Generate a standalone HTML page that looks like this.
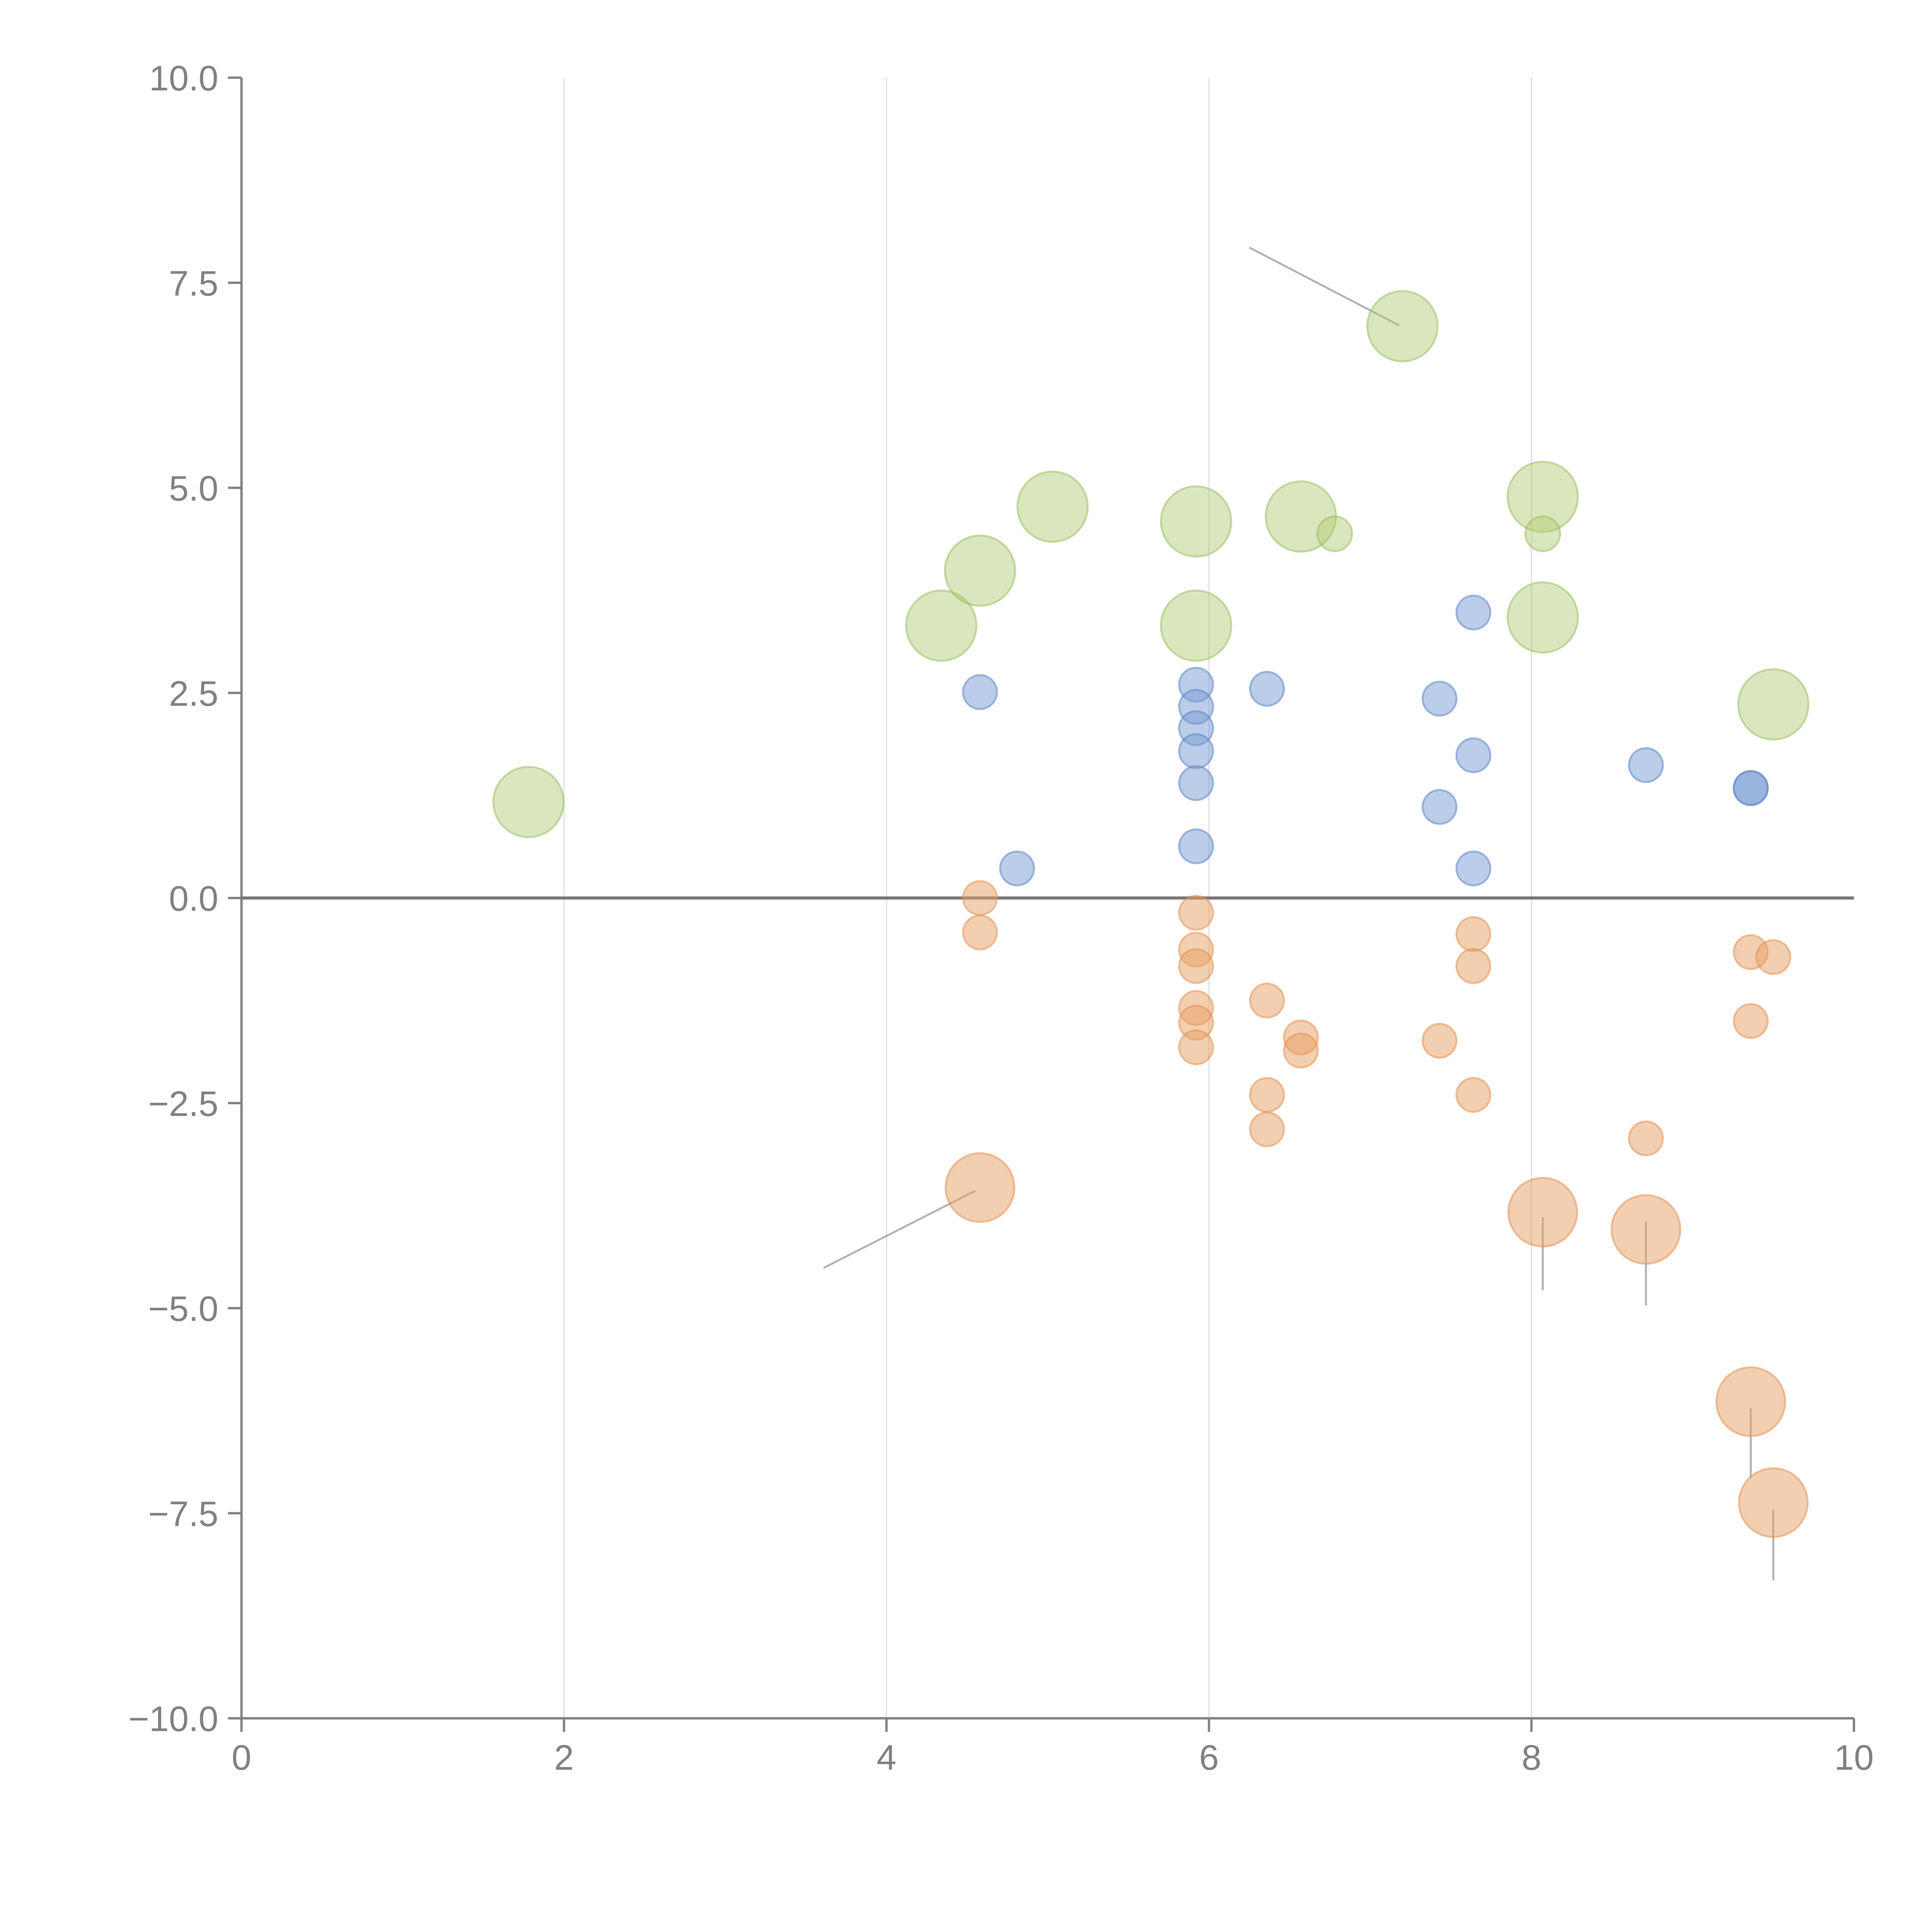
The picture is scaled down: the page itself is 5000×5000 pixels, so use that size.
<!DOCTYPE html>
<html><head><meta charset="utf-8"><style>
html,body{margin:0;padding:0;background:#fff;}
svg{display:block;}
text{font-family:"Liberation Sans",Arial,sans-serif;fill:#808080;}
</style></head><body>
<svg id="chart" width="5000" height="5000" xmlns="http://www.w3.org/2000/svg">
<g id="grid"></g>
<g id="axes"></g>
<g id="leaders"></g>
<g id="marks"></g>
</svg>
<script>
const xTicks=[0,2,4,6,8,10];
const yTicks=[10,7.5,5,2.5,0,-2.5,-5,-7.5,-10];
const yTickLabels=["10.0","7.5","5.0","2.5","0.0","\u22122.5","\u22125.0","\u22127.5","\u221210.0"];
const blueX=[4.58,4.81,5.92,5.92,5.92,5.92,5.92,6.36,7.43,7.43,7.64,7.64,7.64,8.71,9.36,9.36];
const blueY=[2.51,0.36,2.6,2.33,2.07,1.79,1.40,2.55,2.43,1.11,3.48,1.74,0.36,1.62,1.34,1.34];
const blueY2=[0.63];
const blueX2=[5.92];
const orangeX=[4.58,4.58,5.92,5.92,5.92,5.92,5.92,5.92,6.36,6.57,6.57,6.36,6.36,7.43,7.64,7.64,7.64,8.71,9.36,9.50,9.36];
const orangeY=[0.0,-0.42,-0.18,-0.63,-0.83,-1.34,-1.52,-1.82,-1.25,-1.70,-1.86,-2.40,-2.82,-1.74,-0.44,-0.83,-2.40,-2.93,-0.66,-0.72,-1.50];
const orangeBigX=[4.58,8.07,8.71,9.36,9.50];
const orangeBigY=[-3.53,-3.83,-4.04,-6.14,-7.37];
const greenBigX=[1.78,4.34,4.58,5.03,5.92,5.92,6.57,7.20,8.07,8.07,9.50];
const greenBigY=[1.17,3.32,3.99,4.77,4.59,3.32,4.65,6.97,4.89,3.42,2.36];
const greenSmallX=[6.78,8.07];
const greenSmallY=[4.44,4.44];
const leaderX1=[6.25,3.61,8.07,8.71,9.36,9.50];
const leaderY1=[7.93,-4.51,-3.89,-3.94,-6.22,-7.45];
const leaderX2=[7.18,4.55,8.07,8.71,9.36,9.50];
const leaderY2=[6.98,-3.57,-4.78,-4.97,-7.07,-8.32];

const X0=625,X1=4798,Y0=201,Y1=4447;
const sx=v=>X0+(v-0)/(10-0)*(X1-X0);
const sy=v=>Y1-(v+10)/20*(Y1-Y0);
const NS="http://www.w3.org/2000/svg";
function mk(parent,tag,attrs){const e=document.createElementNS(NS,tag);for(const k in attrs)e.setAttribute(k,attrs[k]);document.getElementById(parent).appendChild(e);return e;}

xTicks.forEach(t=>{
  if(t>0&&t<10){const g=mk('grid','line',{x1:sx(t),x2:sx(t),y1:Y0,y2:Y1,stroke:'#dddddd','stroke-width':3});
  
  }
  const tk=mk('axes','line',{x1:sx(t),x2:sx(t),y1:Y1,y2:Y1+35,stroke:'#808080','stroke-width':6});
  
  
  const tx=mk('axes','text',{x:sx(t),y:Y1+133,'font-size':92,'text-anchor':'middle'});
  tx.textContent=t;
  
  
});
yTicks.forEach((t,i)=>{
  const tk=mk('axes','line',{x1:X0-35,x2:X0,y1:sy(t),y2:sy(t),stroke:'#808080','stroke-width':6});
  
  
  const tx=mk('axes','text',{x:X0-60,y:sy(t)+33,'font-size':92,'text-anchor':'end'});
  tx.textContent=yTickLabels[i];
  
  
});
const ya=mk('axes','line',{x1:X0,x2:X0,y1:Y0,y2:Y1,stroke:'#808080','stroke-width':6});


const xa=mk('axes','line',{x1:X0,x2:X1,y1:Y1,y2:Y1,stroke:'#808080','stroke-width':6});


const zl=mk('axes','line',{x1:X0,x2:X1,y1:sy(0),y2:sy(0),stroke:'#777777','stroke-width':8});



leaderX1.forEach((v,i)=>{
  const l=mk('leaders','line',{x1:sx(v),y1:sy(leaderY1[i]),x2:sx(leaderX2[i]),y2:sy(leaderY2[i]),stroke:'#b0b0b0','stroke-width':5});
  
  
});

function dots(xs,ys,r,fill,stroke,name){
  xs.forEach((v,i)=>{
    const c=mk('marks','circle',{cx:sx(v),cy:sy(ys[i]),r:r,fill:fill,stroke:stroke,'stroke-width':5});
    
    
  });
}
dots(greenBigX,greenBigY,91,'rgba(172,202,110,0.45)','rgba(150,185,90,0.5)','green-bubble');
dots(greenSmallX,greenSmallY,45,'rgba(172,202,110,0.45)','rgba(150,185,90,0.5)','green-point');
dots(orangeBigX,orangeBigY,89,'rgba(232,160,100,0.5)','rgba(225,140,75,0.5)','orange-bubble');
dots(orangeX,orangeY,44,'rgba(232,160,100,0.5)','rgba(225,140,75,0.5)','orange-point');
dots(blueX,blueY,44,'rgba(120,155,210,0.5)','rgba(95,135,200,0.55)','blue-point');
dots(blueX2,blueY2,44,'rgba(120,155,210,0.5)','rgba(95,135,200,0.55)','blue-point');
</script>
</body></html>
